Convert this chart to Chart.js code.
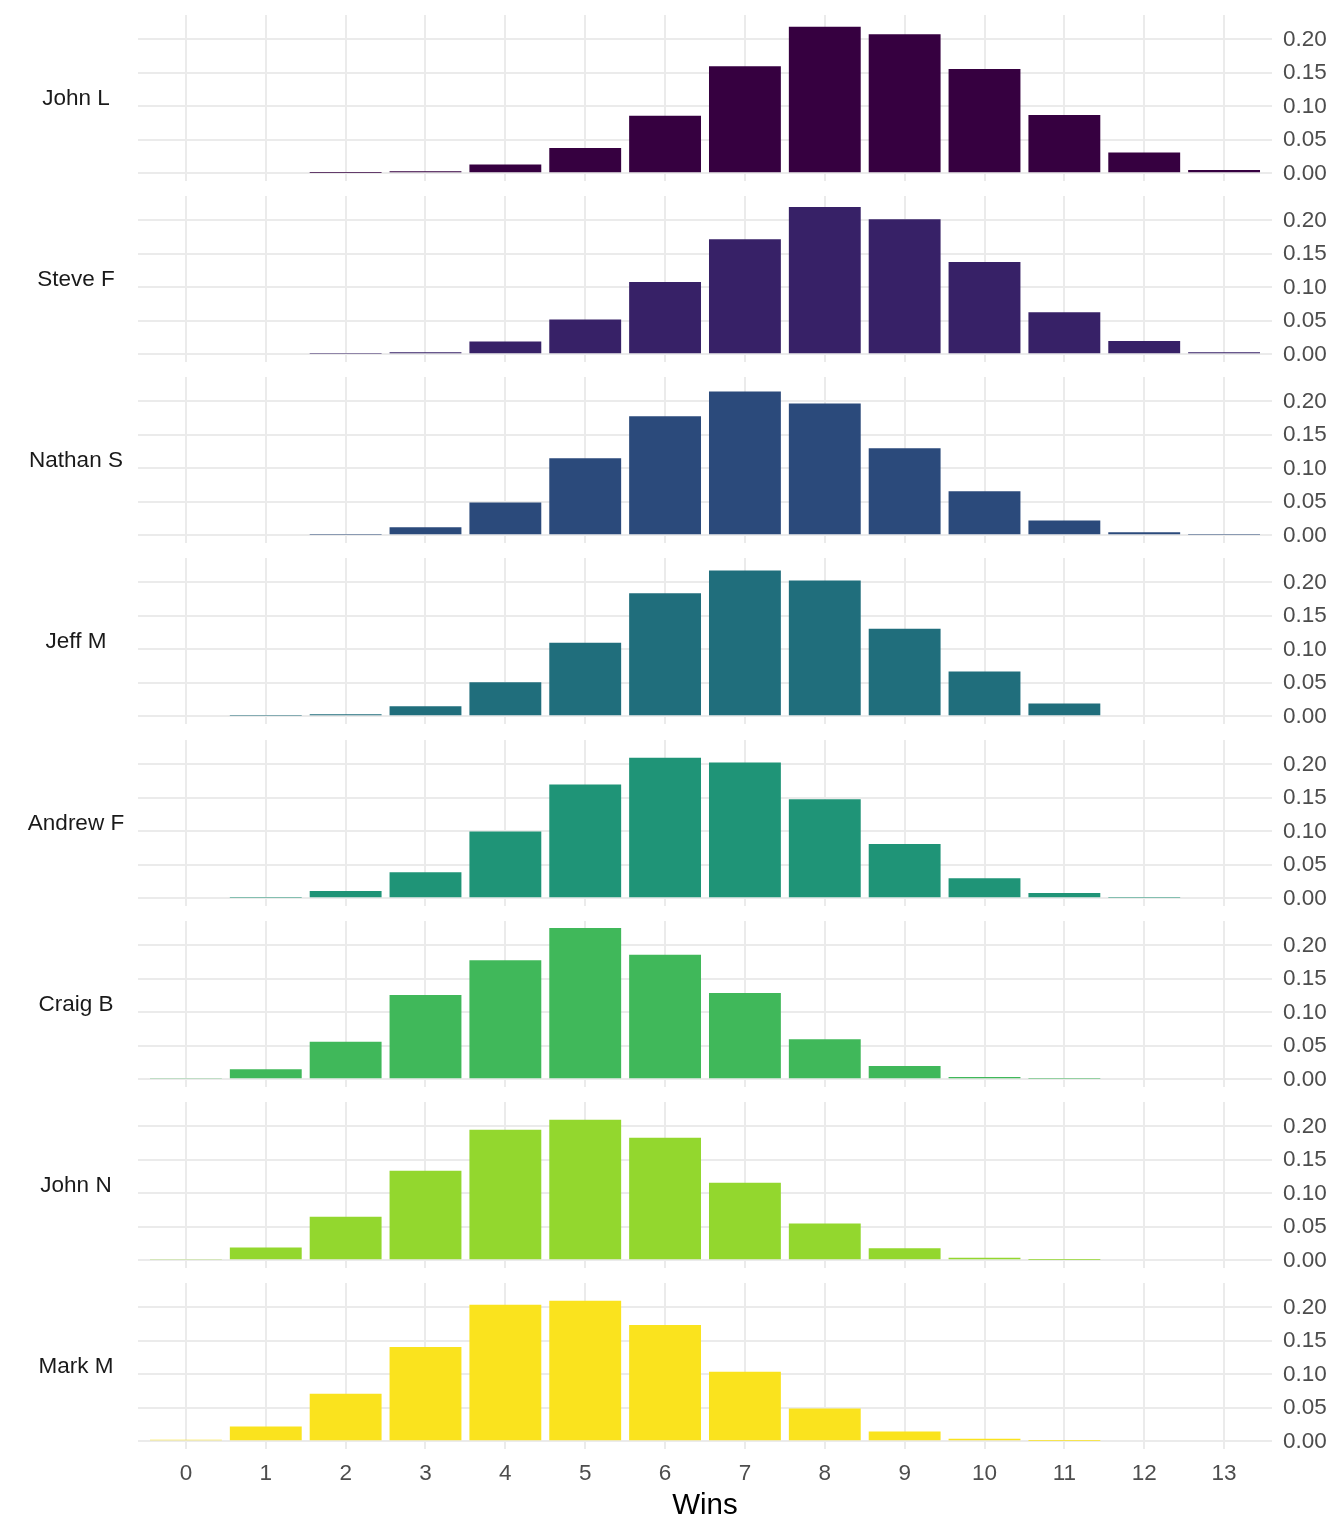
<!DOCTYPE html>
<html>
<head>
<meta charset="utf-8">
<script src="https://cdn.jsdelivr.net/npm/chart.js@4.4.0/dist/chart.umd.min.js"></script>
<style>
    body { margin: 0; background: #fff; }
    #wrap { position: relative; width: 1344px; height: 1536px; overflow: hidden; }
    .panel { position: absolute; left: 0; }
    .lab {
        position: absolute; left: 6px; width: 140px; text-align: center;
        font: 22.5px "Liberation Sans", Arial, sans-serif; color: #1a1a1a;
        line-height: 24px;
    }
</style>
</head>
<body>
<div id="wrap"></div>
<script>
// Wins 0..13, probability for each player
const wins = [0, 1, 2, 3, 4, 5, 6, 7, 8, 9, 10, 11, 12, 13];
const players = ['John L', 'Steve F', 'Nathan S', 'Jeff M', 'Andrew F', 'Craig B', 'John N', 'Mark M'];

const johnL   = [0, 0, 0.0005, 0.003, 0.013, 0.038, 0.086, 0.160, 0.219, 0.208, 0.156, 0.087, 0.031, 0.005];
const steveF  = [0, 0, 0.001, 0.003, 0.019, 0.052, 0.108, 0.172, 0.220, 0.202, 0.138, 0.063, 0.020, 0.003];
const nathanS = [0, 0, 0.001, 0.012, 0.049, 0.115, 0.178, 0.215, 0.197, 0.130, 0.066, 0.022, 0.0045, 0.001];
const jeffM   = [0, 0.001, 0.003, 0.015, 0.051, 0.110, 0.184, 0.218, 0.203, 0.131, 0.067, 0.019, 0.0015, 0];
const andrewF = [0, 0.001, 0.011, 0.039, 0.100, 0.170, 0.210, 0.203, 0.148, 0.081, 0.030, 0.008, 0.001, 0];
const craigB  = [0.002, 0.015, 0.056, 0.126, 0.178, 0.226, 0.186, 0.129, 0.060, 0.020, 0.0035, 0.001, 0, 0];
const johnN   = [0.002, 0.019, 0.065, 0.134, 0.195, 0.210, 0.183, 0.116, 0.055, 0.018, 0.004, 0.0005, 0, 0];
const markM   = [0.0025, 0.022, 0.071, 0.141, 0.204, 0.210, 0.174, 0.104, 0.049, 0.0145, 0.004, 0.0005, 0, 0];

const series = [johnL, steveF, nathanS, jeffM, andrewF, craigB, johnN, markM];
const colors = ['#360040', '#372167', '#2b4a7b', '#206e7c', '#1f9477', '#40b85a', '#93d72e', '#fae31e'];

// y gridlines every 0.025, labels every 0.05
const yTicks = [0, 0.025, 0.05, 0.075, 0.1, 0.125, 0.15, 0.175, 0.2, 0.225];

const FONT = '"Liberation Sans", Arial, sans-serif';
const GRID = '#ebebeb';
const wrap = document.getElementById('wrap');

series.forEach(function (vals, i) {
    const last = i === series.length - 1;
    const zero = 173.5 + 181.15 * i;
    const top = Math.round(zero - 158.5) - 6;
    const height = last ? 6 + 166 + 90 : 6 + 166 + 6;

    const canvas = document.createElement('canvas');
    canvas.className = 'panel';
    canvas.width = 1344;
    canvas.height = height;
    canvas.style.top = top + 'px';
    wrap.appendChild(canvas);

    const lab = document.createElement('div');
    lab.className = 'lab';
    lab.textContent = players[i];
    lab.style.top = (zero - 75.5 - 12) + 'px';
    wrap.appendChild(lab);

    new Chart(canvas.getContext('2d'), {
        type: 'bar',
        data: {
            datasets: [{
                data: wins.map(function (w, j) { return { x: w, y: vals[j] }; }),
                backgroundColor: colors[i],
                borderWidth: 0,
                barPercentage: 0.9,
                categoryPercentage: 1.0
            }]
        },
        options: {
            responsive: false,
            animation: false,
            layout: { padding: { left: 138, right: 0, top: 6, bottom: last ? 0 : 6 } },
            plugins: { legend: { display: false }, tooltip: { enabled: false } },
            scales: {
                x: {
                    type: 'linear',
                    offset: false,
                    min: -0.6,
                    max: 13.6,
                    afterBuildTicks: function (s) { s.ticks = wins.map(function (w) { return { value: w }; }); },
                    afterFit: function (s) {
                        s.height = last ? 90 : 0;
                        s.paddingLeft = 0;
                        s.paddingRight = 0;
                    },
                    grid: { color: GRID, lineWidth: 2, drawTicks: false, offset: false },
                    border: { display: false },
                    ticks: {
                        display: last,
                        autoSkip: false,
                        maxRotation: 0,
                        padding: 11,
                        color: '#4d4d4d',
                        font: { family: FONT, size: 22.5 }
                    },
                    title: {
                        display: last,
                        text: 'Wins',
                        color: '#000',
                        font: { family: FONT, size: 29.5 },
                        padding: { top: 2, bottom: 15 }
                    }
                },
                y: {
                    position: 'right',
                    min: -0.0115,
                    max: 0.2366,
                    afterBuildTicks: function (s) { s.ticks = yTicks.map(function (v) { return { value: v }; }); },
                    afterFit: function (s) {
                        s.width = 72;
                        s.paddingTop = 0;
                        s.paddingBottom = 0;
                    },
                    grid: {
                        color: GRID,
                        drawTicks: false,
                        lineWidth: function (c) {
                            const k = Math.round(c.tick.value * 40);
                            return k % 2 === 0 ? 2 : 1;
                        }
                    },
                    border: { display: false },
                    ticks: {
                        padding: 11,
                        color: '#4d4d4d',
                        font: { family: FONT, size: 22.5 },
                        callback: function (v) {
                            const k = Math.round(v * 40);
                            return k % 2 === 0 ? v.toFixed(2) : '';
                        }
                    }
                }
            }
        }
    });
});
</script>
</body>
</html>
